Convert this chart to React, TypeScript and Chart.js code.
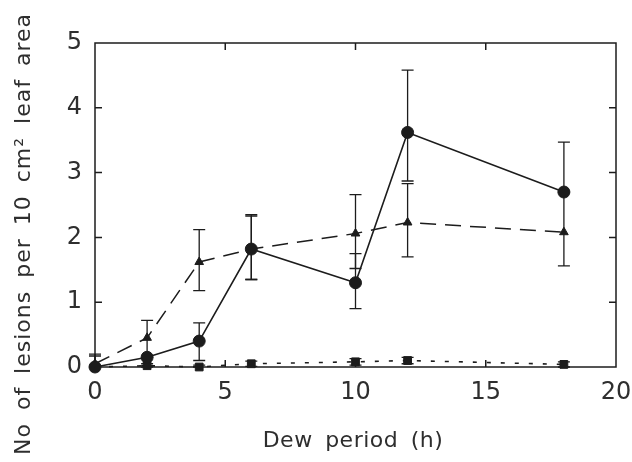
import React, { useEffect, useRef } from "react";
import { Chart, registerables } from "chart.js";

Chart.register(...registerables);

const dewHours = [0, 2, 4, 6, 10, 12, 18];
const circleMeans = [0, 0.15, 0.4, 1.82, 1.3, 3.62, 2.7];
const circleLow = [0, 0.02, 0.1, 1.35, 0.9, 2.87, 2.7];
const circleHigh = [0.2, 0.15, 0.68, 2.35, 1.75, 4.58, 3.47];
const triangleMeans = [0.05, 0.45, 1.62, 1.82, 2.06, 2.23, 2.08];
const triangleLow = [0.0, 0.15, 1.18, 1.35, 1.52, 1.7, 1.56];
const triangleHigh = [0.17, 0.72, 2.12, 2.33, 2.66, 2.83, 2.7];
const squareMeans = [0, 0.02, 0, 0.05, 0.08, 0.1, 0.04];
const squareLow = [0, 0, 0, 0.01, 0.03, 0.05, 0];
const squareHigh = [0.03, 0.05, 0.03, 0.09, 0.13, 0.15, 0.08];

const xTicks = [0, 5, 10, 15, 20];
const yTicks = [0, 1, 2, 3, 4, 5];
const xTitle = "Dew period (h)";
const yTitle = "No of lesions per 10 cm\u00B2 leaf area";

const INK = "#1c1c1c";
const TEXT = "#2e2e2e";
const FONT = "'DejaVu Sans', sans-serif";

const toPoints = (ys: number[]) => dewHours.map((x, i) => ({ x, y: ys[i] }));

const framePlugin = {
  id: "frame",
  beforeDatasetsDraw(chart: any) {
    const ctx = chart.ctx;
    const xs = chart.scales.x;
    const ys = chart.scales.y;
    ctx.save();
    ctx.strokeStyle = INK;
    ctx.lineWidth = 1.3;
    chart.data.datasets.forEach((ds: any) => {
      ds.data.forEach((p: any, i: number) => {
        const lo = ds.errLow[i];
        const hi = ds.errHigh[i];
        const px = xs.getPixelForValue(p.x);
        const pl = ys.getPixelForValue(lo);
        const ph = ys.getPixelForValue(hi);
        ctx.beginPath();
        ctx.moveTo(px, pl);
        ctx.lineTo(px, ph);
        if (lo !== p.y) {
          ctx.moveTo(px - 6, pl);
          ctx.lineTo(px + 6, pl);
        }
        if (hi !== p.y) {
          ctx.moveTo(px - 6, ph);
          ctx.lineTo(px + 6, ph);
        }
        ctx.stroke();
      });
    });
    ctx.restore();
  },
  afterDraw(chart: any) {
    const ctx = chart.ctx;
    const a = chart.chartArea;
    const xs = chart.scales.x;
    const ys = chart.scales.y;
    ctx.save();
    ctx.strokeStyle = INK;
    ctx.lineWidth = 1.5;
    ctx.strokeRect(a.left, a.top, a.right - a.left, a.bottom - a.top);
    const tl = 7;
    ctx.beginPath();
    xTicks.slice(1, -1).forEach((v) => {
      const px = xs.getPixelForValue(v);
      ctx.moveTo(px, a.bottom);
      ctx.lineTo(px, a.bottom - tl);
      ctx.moveTo(px, a.top);
      ctx.lineTo(px, a.top + tl);
    });
    yTicks.slice(1, -1).forEach((v) => {
      const py = ys.getPixelForValue(v);
      ctx.moveTo(a.left, py);
      ctx.lineTo(a.left + tl, py);
      ctx.moveTo(a.right, py);
      ctx.lineTo(a.right - tl, py);
    });
    ctx.stroke();

    ctx.fillStyle = TEXT;
    ctx.font = "22px " + FONT;
    ctx.textAlign = "center";
    ctx.textBaseline = "middle";
    (ctx as any).letterSpacing = "0.5px";
    (ctx as any).wordSpacing = "5px";
    ctx.fillText(xTitle, 353, 441);

    ctx.translate(24, 234);
    ctx.rotate(-Math.PI / 2);
    (ctx as any).letterSpacing = "1px";
    (ctx as any).wordSpacing = "5px";
    ctx.fillText(yTitle, 0, 0);
    ctx.restore();
  },
};

export default function App() {
  const ref = useRef<HTMLCanvasElement | null>(null);

  useEffect(() => {
    if (!ref.current) return;
    const chart = new Chart(ref.current, {
      type: "line",
      data: {
        datasets: [
          {
            label: "circles",
            data: toPoints(circleMeans),
            errLow: circleLow,
            errHigh: circleHigh,
            borderColor: INK,
            backgroundColor: INK,
            borderWidth: 1.6,
            pointStyle: "circle",
            pointRadius: 6,
            pointBorderWidth: 1,
            clip: false,
          } as any,
          {
            label: "triangles",
            data: toPoints(triangleMeans),
            errLow: triangleLow,
            errHigh: triangleHigh,
            borderColor: INK,
            backgroundColor: INK,
            borderWidth: 1.5,
            borderDash: [16, 9],
            pointStyle: "triangle",
            pointRadius: 5,
            pointBorderWidth: 1,
            clip: false,
          } as any,
          {
            label: "squares",
            data: toPoints(squareMeans),
            errLow: squareLow,
            errHigh: squareHigh,
            borderColor: INK,
            backgroundColor: INK,
            borderWidth: 1.6,
            borderDash: [4, 10],
            pointStyle: "rect",
            pointRadius: 5.5,
            pointBorderWidth: 1,
            clip: false,
          } as any,
        ],
      },
      options: {
        responsive: false,
        animation: false,
        events: [],
        layout: { padding: { left: 0, top: 43, right: 16, bottom: 0 } },
        plugins: {
          legend: { display: false },
          tooltip: { enabled: false },
          title: { display: false },
        },
        scales: {
          x: {
            type: "linear",
            min: 0,
            max: 20,
            afterBuildTicks: (s: any) => {
              s.ticks = xTicks.map((v) => ({ value: v }));
            },
            afterFit: (s: any) => {
              s.height = 95;
              s.paddingLeft = 0;
              s.paddingRight = 0;
            },
            ticks: {
              color: TEXT,
              font: { family: FONT, size: 24 },
              padding: 11,
              maxRotation: 0,
            },
            grid: { display: false, drawTicks: false },
            border: { display: false },
          },
          y: {
            type: "linear",
            min: 0,
            max: 5,
            afterBuildTicks: (s: any) => {
              s.ticks = yTicks.map((v) => ({ value: v }));
            },
            afterFit: (s: any) => {
              s.width = 95;
              s.paddingTop = 0;
              s.paddingBottom = 0;
            },
            ticks: {
              color: TEXT,
              font: { family: FONT, size: 24 },
              padding: 13,
            },
            grid: { display: false, drawTicks: false },
            border: { display: false },
          },
        },
      },
      plugins: [framePlugin],
    });
    return () => chart.destroy();
  }, []);

  return (
    <div style={{ position: "absolute", left: 0, top: 0, width: 632, height: 462, background: "#fff" }}>
      <canvas ref={ref} width={632} height={462} style={{ display: "block" }} />
    </div>
  );
}
